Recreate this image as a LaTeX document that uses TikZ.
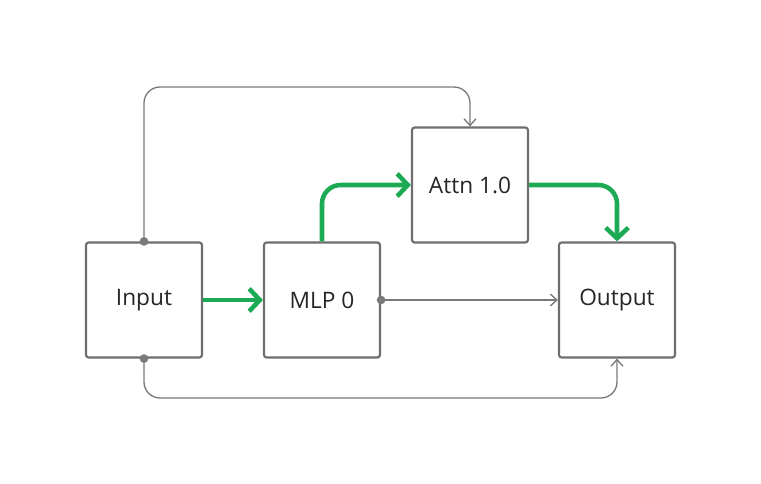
\documentclass[tikz,border=0pt]{standalone}
\usepackage{fontspec}
\setmainfont{Open Sans}
\usetikzlibrary{arrows.meta}
\definecolor{edgegray}{HTML}{7A7A7A}
\definecolor{boxgray}{HTML}{6E6E6E}
\definecolor{hlgreen}{HTML}{1DAA55}
\tikzset{
  box/.style={draw=boxgray,line width=1.6pt,fill=white,rounded corners=2pt,minimum width=116*0.75pt,minimum height=115*0.75pt,inner sep=0pt,font=\fontsize{17}{19}\selectfont,text=black!85},
  gline/.style={draw=edgegray,line width=1pt,rounded corners=12pt,-{Straight Barb[length=5pt,width=9pt]}},
  hline/.style={draw=hlgreen,line width=3.4pt,rounded corners=14pt,-{Straight Barb[length=8pt,width=17pt]}},
  dot/.style={circle,fill=edgegray,inner sep=0pt,minimum size=6.5pt}
}
\begin{document}
\begin{tikzpicture}[x=0.75pt,y=-0.75pt]
\useasboundingbox (0,0) rectangle (761,484);
\node[box] (in) at (144,300) {Input};
\node[box] (mlp) at (322,300) {MLP 0};
\node[box] (attn) at (470,185) {Attn 1.0};
\node[box] (out) at (617,300) {Output};
\draw[gline] (in.north) -- (144,87) -- (470,87) -- (attn.north);
\draw[gline] (in.south) -- (144,398) -- (617,398) -- (out.south);
\draw[gline,rounded corners=0pt] (mlp.east) -- (out.west);
\draw[hline,rounded corners=0pt] (in.east) -- (mlp.west);
\draw[hline] (mlp.north) -- (322,185) -- (attn.west);
\draw[hline] (attn.east) -- (617,185) -- (out.north);
\node[dot] (d1) at (in.north) {};
\node[dot] (d2) at (in.south) {};
\node[dot] (d3) at (mlp.east) {};
\end{tikzpicture}
\end{document}
